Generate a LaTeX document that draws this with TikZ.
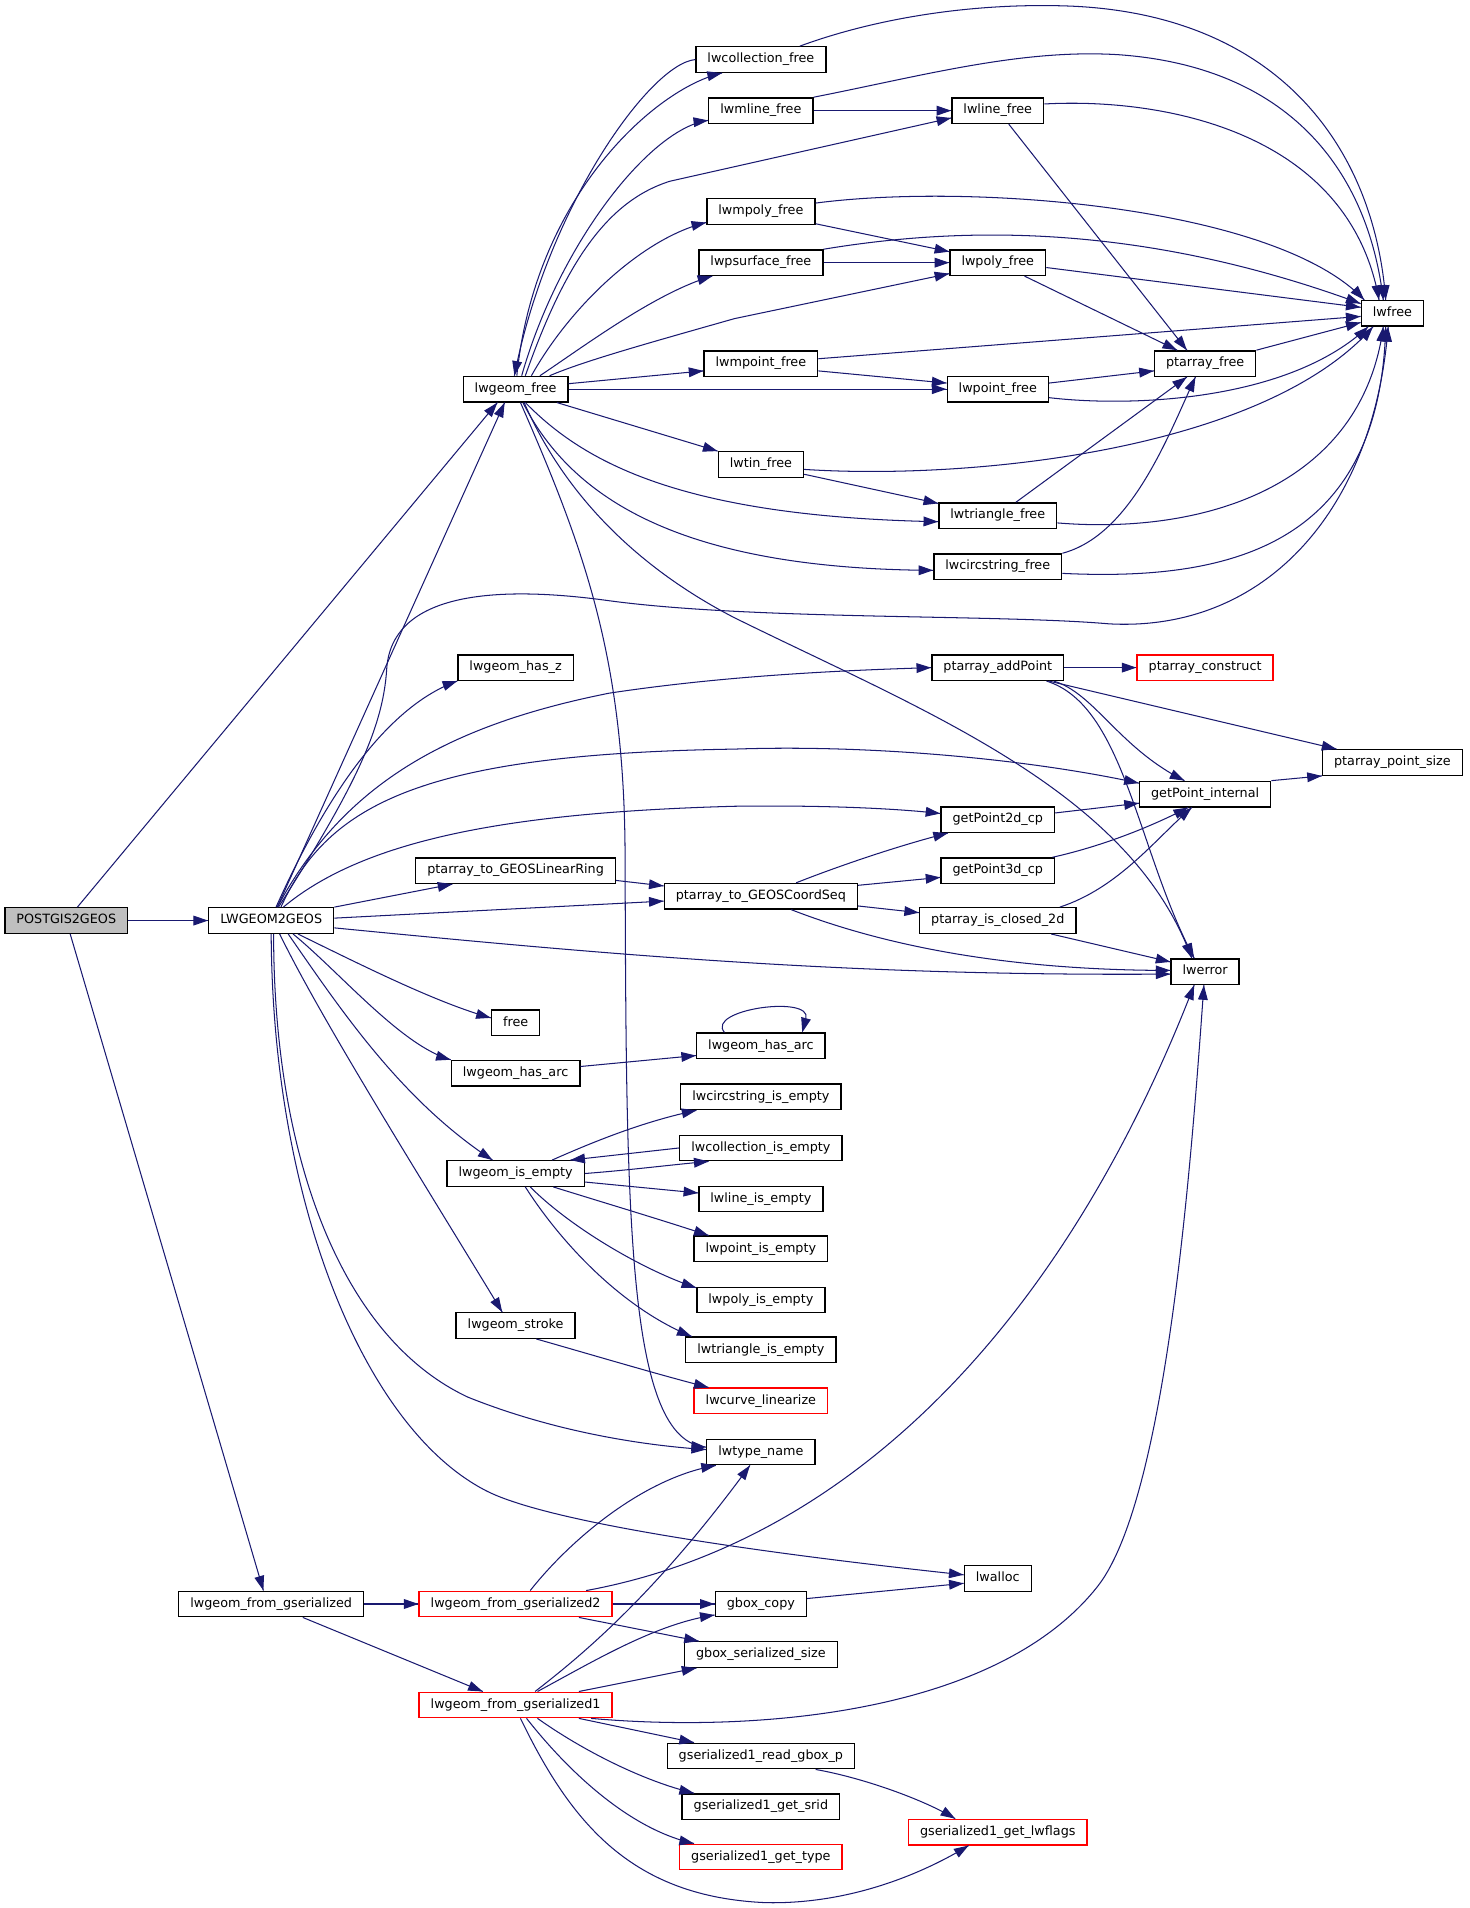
\documentclass[tikz,border=0pt]{standalone}
\usepackage{fontspec}
\setmainfont{DejaVu Sans}
\usepackage{tikz}
\usetikzlibrary{shapes,arrows.meta}
\usetikzlibrary{decorations.markings}
\definecolor{edgeblue}{HTML}{191970}
\definecolor{rootgray}{HTML}{BFBFBF}
\tikzstyle{fn} = [rectangle, draw=black, fill=white, line width=1.1pt, minimum height=21pt,
	inner xsep=9.5pt, inner ysep=0pt, text height=7.6pt, text depth=2.2pt,
	font=\fontsize{10.5}{12}\selectfont]
\tikzstyle{fnred} = [fn, draw=red]
\tikzstyle{fnroot} = [fn, fill=rootgray]
\tikzstyle{call} = [draw=edgeblue, line width=0.85pt, decoration={markings,mark=at position 0.9999 with
	{\arrow[edgeblue]{Triangle[length=12pt,width=8pt]}}},postaction={decorate}]
\tikzstyle{callself} = [draw=edgeblue, line width=0.85pt, -{Triangle[length=12pt,width=8pt]}]

\begin{document}
\begin{tikzpicture}[x=1pt,y=1pt]
				\fill[white] (0,0) rectangle (1208,-1569);
				\useasboundingbox (0,0) rectangle (1208,-1569);
				
				\node[fnroot] (postgis)    at (54.5,-757)  {POSTGIS2GEOS};
				\node[fn] (lwgeomgeos)     at (223,-757)   {LWGEOM2GEOS};
				\node[fn] (fromgs)         at (223,-1319)  {lwgeom\_from\_gserialized};
				\node[fn] (lwgeomfree)     at (424,-320)   {lwgeom\_free};
				\node[fn] (collfree)       at (625.7,-49)  {lwcollection\_free};
				\node[fn] (mlinefree)      at (625.7,-91)  {lwmline\_free};
				\node[fn] (linefree)       at (820.5,-91)  {lwline\_free};
				\node[fn] (mpolyfree)      at (625.7,-174) {lwmpoly\_free};
				\node[fn] (psurffree)      at (625.7,-216) {lwpsurface\_free};
				\node[fn] (polyfree)       at (820.5,-216) {lwpoly\_free};
				\node[fn] (lwfree)         at (1145,-257.7) {lwfree};
				\node[fn] (mpointfree)     at (625.7,-299) {lwmpoint\_free};
				\node[fn] (ptfree)         at (991,-299)   {ptarray\_free};
				\node[fn] (pointfree)      at (820.5,-320) {lwpoint\_free};
				\node[fn] (tinfree)        at (625.7,-382) {lwtin\_free};
				\node[fn] (trifree)        at (820.5,-424) {lwtriangle\_free};
				\node[fn] (circfree)       at (820.5,-466) {lwcircstring\_free};
				\node[fn] (hasz)           at (424,-549)   {lwgeom\_has\_z};
				\node[fn] (addpoint)       at (820.5,-549) {ptarray\_addPoint};
				\node[fnred] (construct)   at (991,-549)   {ptarray\_construct};
				\node[fn] (pointsize)      at (1145,-627)  {ptarray\_point\_size};
				\node[fn] (getint)         at (991,-653)   {getPoint\_internal};
				\node[fn] (get2d)          at (820.5,-674) {getPoint2d\_cp};
				\node[fn] (toring)         at (424,-716)   {ptarray\_to\_GEOSLinearRing};
				\node[fn] (get3d)          at (820.5,-716) {getPoint3d\_cp};
				\node[fn] (toseq)          at (625.7,-737) {ptarray\_to\_GEOSCoordSeq};
				\node[fn] (isclosed)       at (820.5,-757) {ptarray\_is\_closed\_2d};
				\node[fn] (lwerror)        at (991,-799)   {lwerror};
				\node[fn] (free)           at (424,-841)   {free};
				\node[fn] (hasarcr)        at (625.7,-860) {lwgeom\_has\_arc};
				\node[fn] (hasarcl)        at (424,-882.5) {lwgeom\_has\_arc};
				\node[fn] (circempty)      at (625.7,-902) {lwcircstring\_is\_empty};
				\node[fn] (collempty)      at (625.7,-944) {lwcollection\_is\_empty};
				\node[fn] (isempty)        at (424,-965)   {lwgeom\_is\_empty};
				\node[fn] (lineempty)      at (625.7,-986) {lwline\_is\_empty};
				\node[fn] (pointempty)     at (625.7,-1027) {lwpoint\_is\_empty};
				\node[fn] (polyempty)      at (625.7,-1069) {lwpoly\_is\_empty};
				\node[fn] (stroke)         at (424,-1090)  {lwgeom\_stroke};
				\node[fn] (triempty)       at (625.7,-1110) {lwtriangle\_is\_empty};
				\node[fnred] (linearize)   at (625.7,-1152) {lwcurve\_linearize};
				\node[fn] (typename)       at (625.7,-1194) {lwtype\_name};
				\node[fn] (lwalloc)        at (820.5,-1298) {lwalloc};
				\node[fnred] (fromgs2)     at (424,-1319)  {lwgeom\_from\_gserialized2};
				\node[fn] (gboxcopy)       at (625.7,-1319) {gbox\_copy};
				\node[fn] (gboxsize)       at (625.7,-1360.6) {gbox\_serialized\_size};
				\node[fnred] (fromgs1)     at (424,-1402)  {lwgeom\_from\_gserialized1};
				\node[fn] (readgbox)       at (625.7,-1444) {gserialized1\_read\_gbox\_p};
				\node[fn] (getsrid)        at (625.7,-1485.6) {gserialized1\_get\_srid};
				\node[fnred] (getlwflags)  at (820.5,-1506.6) {gserialized1\_get\_lwflags};
				\node[fnred] (gettype)     at (625.7,-1527) {gserialized1\_get\_type};
				
				\foreach \a/\b in {postgis/lwgeomgeos,mlinefree/linefree,psurffree/polyfree,lwgeomfree/pointfree,addpoint/construct,fromgs/fromgs2,fromgs2/gboxcopy}{
					\draw [call] (\a.east) -- (\b.west);
				}
				
				\draw [call] (postgis) -- ([xshift=-15pt]lwgeomfree.south);
				\draw [call] (postgis) -- (fromgs.120);
				
				\draw [call] ([xshift=5pt]lwgeomgeos.north) -- ([xshift=-9pt]lwgeomfree.south);
				\draw [call] ([xshift=6pt]lwgeomgeos.north) .. controls (290,-650) and (315,-600) .. (318,-550)
					.. controls (322,-490) and (400,-480) .. (501,-494) .. controls (620,-510) and (820,-505) .. (912,-513)
					.. controls (1040,-520) and (1130,-420) .. ([xshift=-3.5pt]lwfree.south);
				\draw [call] ([xshift=4pt]lwgeomgeos.north) .. controls (270,-650) and (320,-580) .. (hasz.south west);
				\draw [call] ([xshift=5pt]lwgeomgeos.north) .. controls (280,-650) and (360,-598) .. (501,-570)
					.. controls (600,-555) and (700,-551) .. (addpoint.west);
				\draw [call] ([xshift=8pt]lwgeomgeos.north) .. controls (270,-660) and (350,-620) .. (604,-616)
					.. controls (720,-612) and (850,-625) .. ([yshift=9pt]getint.west);
				\draw [call] ([xshift=10pt]lwgeomgeos.north) .. controls (300,-690) and (420,-668) .. (604,-663)
					.. controls (680,-662) and (740,-665) .. ([yshift=5pt]get2d.west);
				\draw [call] (lwgeomgeos.north east) -- ([xshift=-52pt]toring.south);
				\draw [call] ([yshift=2pt]lwgeomgeos.east) -- ([yshift=-4pt]toseq.west);
				\draw [call] ([yshift=-6pt]lwgeomgeos.east) .. controls (500,-785) and (700,-803) .. ([yshift=-2pt]lwerror.west);
				\draw [call] ([xshift=22pt]lwgeomgeos.south) .. controls (300,-795) and (360,-825) .. ([yshift=4pt]free.west);
				\draw [call] ([xshift=18pt]lwgeomgeos.south) .. controls (280,-800) and (330,-860) .. (hasarcl.north west);
				\draw [call] ([xshift=14pt]lwgeomgeos.south) .. controls (280,-830) and (330,-905) .. ([xshift=-19pt]isempty.north);
				\draw [call] ([xshift=7pt]lwgeomgeos.south) .. controls (265,-840) and (350,-975) .. ([xshift=-11pt]stroke.north);
				\draw [call] ([xshift=2pt]lwgeomgeos.south) .. controls (225,-950) and (280,-1100) .. (385,-1149)
					.. controls (450,-1175) and (520,-1188) .. ([yshift=2pt]typename.west);
				\draw [call] (lwgeomgeos.south) .. controls (224,-990) and (300,-1175) .. (400,-1226)
					.. controls (460,-1256.6) and (680,-1283) .. ([yshift=3pt]lwalloc.west);
				
				\draw [call] ([xshift=1pt]lwgeomfree.north) .. controls (440,-160) and (540,-72) .. ([xshift=-32pt]collfree.south);
				\draw [call] (collfree.west) .. controls (535,-52) and (450,-170) .. ([xshift=-1pt]lwgeomfree.north);
				\draw [call] ([xshift=5pt]lwgeomfree.north) .. controls (460,-200) and (535,-105) .. ([yshift=-8pt]mlinefree.west);
				\draw [call] ([xshift=8pt]lwgeomfree.north) .. controls (465,-215) and (500,-165) .. (551,-149) -- ([yshift=-6pt]linefree.west);
				\draw [call] ([xshift=13pt]lwgeomfree.north) .. controls (470,-250) and (530,-195) .. ([yshift=-9pt]mpolyfree.west);
				\draw [call] ([xshift=20pt]lwgeomfree.north) .. controls (480,-285) and (540,-240) .. ([xshift=-40pt]psurffree.south);
				\draw [call] ([xshift=28pt]lwgeomfree.north) .. controls (480,-297) and (530,-283) .. (604,-262) -- ([yshift=-9pt]polyfree.west);
				\draw [call] ([yshift=4.5pt]lwgeomfree.east) -- ([yshift=-6pt]mpointfree.west);
				\draw [call] ([xshift=34pt]lwgeomfree.south) -- (tinfree.north west);
				\draw [call] ([xshift=8pt]lwgeomfree.south) .. controls (480,-380) and (560,-425) .. ([yshift=-5pt]trifree.west);
				\draw [call] ([xshift=6pt]lwgeomfree.south) .. controls (470,-410) and (560,-468) .. ([yshift=-3pt]circfree.west);
				\draw [call] ([xshift=7pt]lwgeomfree.south) .. controls (470,-420) and (540,-475) .. (604,-508)
					.. controls (760,-585) and (930,-650) .. ([xshift=-11pt]lwerror.north);
				\draw [call] ([xshift=4pt]lwgeomfree.south) .. controls (480,-450) and (513,-540) .. (514,-700)
					.. controls (515,-1000) and (515,-1185) .. ([yshift=4pt]typename.west);
				
				\draw [call] ([xshift=32pt]collfree.north) .. controls (720,-15) and (800,-2) .. (880,-5)
					.. controls (1050,-12) and (1130,-120) .. ([xshift=-5.5pt]lwfree.north);
				\draw [call] (mlinefree.north east) .. controls (760,-62) and (840,-40) .. (920,-45)
					.. controls (1060,-55) and (1125,-140) .. ([xshift=-7.5pt]lwfree.north);
				\draw [call] ([yshift=5.5pt]linefree.east) .. controls (960,-80) and (1110,-110) .. ([xshift=-11pt]lwfree.north);
				\draw [call] ([xshift=9pt]linefree.south) -- ([xshift=-15pt]ptfree.north);
				\draw [call] ([yshift=-10pt]mpolyfree.east) -- ([yshift=-2pt]polyfree.north west);
				\draw [call] ([yshift=7pt]mpolyfree.east) .. controls (800,-150) and (1050,-170) .. ([xshift=3pt]lwfree.north west);
				\draw [call] (psurffree.north east) .. controls (780,-188) and (930,-180) .. ([yshift=-3pt]lwfree.north west);
				\draw [call] ([yshift=-4pt]polyfree.east) -- ([yshift=5pt]lwfree.west);
				\draw [call] ([xshift=22pt]polyfree.south) -- ([xshift=-23pt]ptfree.north);
				\draw [call] ([yshift=4pt]mpointfree.east) -- ([yshift=-2.5pt]lwfree.west);
				\draw [call] ([yshift=-6pt]mpointfree.east) -- ([yshift=5pt]pointfree.west);
				\draw [call] ([yshift=5pt]pointfree.east) -- ([yshift=-6pt]ptfree.west);
				\draw [call] ([yshift=-7pt]pointfree.east) .. controls (930,-335) and (1060,-330) .. ([xshift=-20pt]lwfree.south);
				\draw [call] (ptfree.north east) -- ([yshift=-7.5pt]lwfree.west);
				\draw [call] ([yshift=-4pt]tinfree.east) .. controls (800,-395) and (1040,-370) .. ([xshift=-16pt]lwfree.south);
				\draw [call] ([yshift=-8pt]tinfree.east) -- ([yshift=-1pt]trifree.north west);
				\draw [call] ([xshift=15pt]trifree.north) -- ([xshift=-15pt]ptfree.south);
				\draw [call] ([yshift=-6pt]trifree.east) .. controls (990,-440) and (1120,-400) .. ([xshift=-7.5pt]lwfree.south);
				\draw [call] (circfree.north east) .. controls (930,-440) and (960,-360) .. ([xshift=-8pt]ptfree.south);
				\draw [call] ([yshift=-5.5pt]circfree.east) .. controls (1010,-478) and (1135,-450) .. ([xshift=-5.5pt]lwfree.south);
				
				\draw [call] ([xshift=42pt]addpoint.south) -- ([xshift=-46pt]pointsize.north);
				\draw [call] ([xshift=46pt]addpoint.south) .. controls (900,-570) and (920,-615) .. ([xshift=-17pt]getint.north);
				\draw [call] ([xshift=40pt]addpoint.south) .. controls (925,-580) and (935,-700) .. ([xshift=-9pt]lwerror.north);
				\draw [call] (getint.north east) -- (pointsize.south west);
				\draw [call] ([yshift=5.5pt]get2d.east) -- ([yshift=-7.5pt]getint.west);
				\draw [call] ([xshift=45pt]get3d.north) .. controls (910,-695) and (950,-678) .. ([xshift=-14pt]getint.south);
				\draw [call] ([xshift=51pt]isclosed.north) .. controls (920,-730) and (950,-690) .. ([xshift=-11pt]getint.south);
				\draw [call] ([xshift=44pt]isclosed.south) -- ([yshift=8pt]lwerror.west);
				\draw [call] ([yshift=-8pt]toring.east) -- ([yshift=8.5pt]toseq.west);
				\draw [call] ([xshift=29pt]toseq.north) .. controls (690,-712) and (740,-695) .. ([xshift=-41pt]get2d.south);
				\draw [call] ([yshift=9pt]toseq.east) -- ([yshift=-5.5pt]get3d.west);
				\draw [call] ([yshift=-8pt]toseq.east) -- ([yshift=6.5pt]isclosed.west);
				\draw [call] ([xshift=25pt]toseq.south) .. controls (720,-775) and (820,-798) .. ([yshift=1pt]lwerror.west);
				
				\draw [call] ([yshift=5.5pt]hasarcl.east) -- ([yshift=-8pt]hasarcr.west);
				\draw [callself] ([xshift=-30pt]hasarcr.north) .. controls (580,-830) and (668,-818) .. ([xshift=34pt]hasarcr.north);
				\draw [call] ([xshift=30pt]isempty.north) .. controls (490,-938) and (530,-922) .. ([xshift=-53pt]circempty.south);
				\draw [call] (collempty.west) -- ([xshift=45pt]isempty.north);
				\draw [call] (isempty.east) .. controls (520,-962) and (550,-958) .. ([xshift=-43pt]collempty.south);
				\draw [call] ([yshift=-7pt]isempty.east) -- ([yshift=5pt]lineempty.west);
				\draw [call] ([xshift=31pt]isempty.south) .. controls (500,-990) and (550,-1005) .. ([xshift=-43pt]pointempty.north);
				\draw [call] ([xshift=12pt]isempty.south) .. controls (470,-1010) and (530,-1045) .. ([yshift=-1pt]polyempty.north west);
				\draw [call] ([xshift=8pt]isempty.south) .. controls (460,-1020) and (510,-1075) .. ([xshift=-57pt]triempty.north);
				\draw [call] ([xshift=17pt]stroke.south) .. controls (490,-1115) and (540,-1130) .. ([xshift=-43pt]linearize.north);
				
				\draw [call] ([xshift=26pt]fromgs.south) -- ([xshift=-27pt]fromgs1.north);
				\draw [call] ([xshift=12pt]fromgs2.north) .. controls (470,-1265) and (530,-1215) .. ([xshift=-37pt]typename.south);
				\draw [call] ([xshift=58pt]fromgs2.north) .. controls (690,-1270) and (870,-1100) .. ([xshift=-9pt]lwerror.south);
				\draw [call] ([xshift=52pt]fromgs2.south) -- ([xshift=-51pt]gboxsize.north);
				\draw [call] ([xshift=16pt]fromgs1.north) .. controls (480,-1360) and (540,-1310) .. ([xshift=-9pt]typename.south);
				\draw [call] ([xshift=18pt]fromgs1.north) .. controls (490,-1365) and (540,-1335) .. ([yshift=2pt]gboxcopy.south west);
				\draw [call] ([xshift=52pt]fromgs1.north) -- ([xshift=-53pt]gboxsize.south);
				\draw [call] ([xshift=62pt]fromgs1.south) .. controls (620,-1425) and (820,-1410) .. (903,-1304)
					.. controls (960,-1230) and (980,-950) .. ([xshift=-1pt]lwerror.south);
				\draw [call] ([xshift=52pt]fromgs1.south) -- ([xshift=-55pt]readgbox.north);
				\draw [call] ([xshift=18pt]fromgs1.south) .. controls (480,-1440) and (530,-1465) .. ([xshift=-55pt]getsrid.north);
				\draw [call] ([xshift=9pt]fromgs1.south) .. controls (470,-1460) and (520,-1505) .. ([xshift=-55pt]gettype.north);
				\draw [call] ([xshift=4pt]fromgs1.south) .. controls (470,-1500) and (520,-1560) .. (630,-1564.6)
					.. controls (700,-1566) and (760,-1540) .. ([xshift=-24pt]getlwflags.south);
				\draw [call] ([xshift=45pt]readgbox.south) .. controls (710,-1462) and (760,-1480) .. ([xshift=-35pt]getlwflags.north);
				\draw [call] ([yshift=4.5pt]gboxcopy.east) -- ([yshift=-4pt]lwalloc.west);
				
\end{tikzpicture}
\end{document}
